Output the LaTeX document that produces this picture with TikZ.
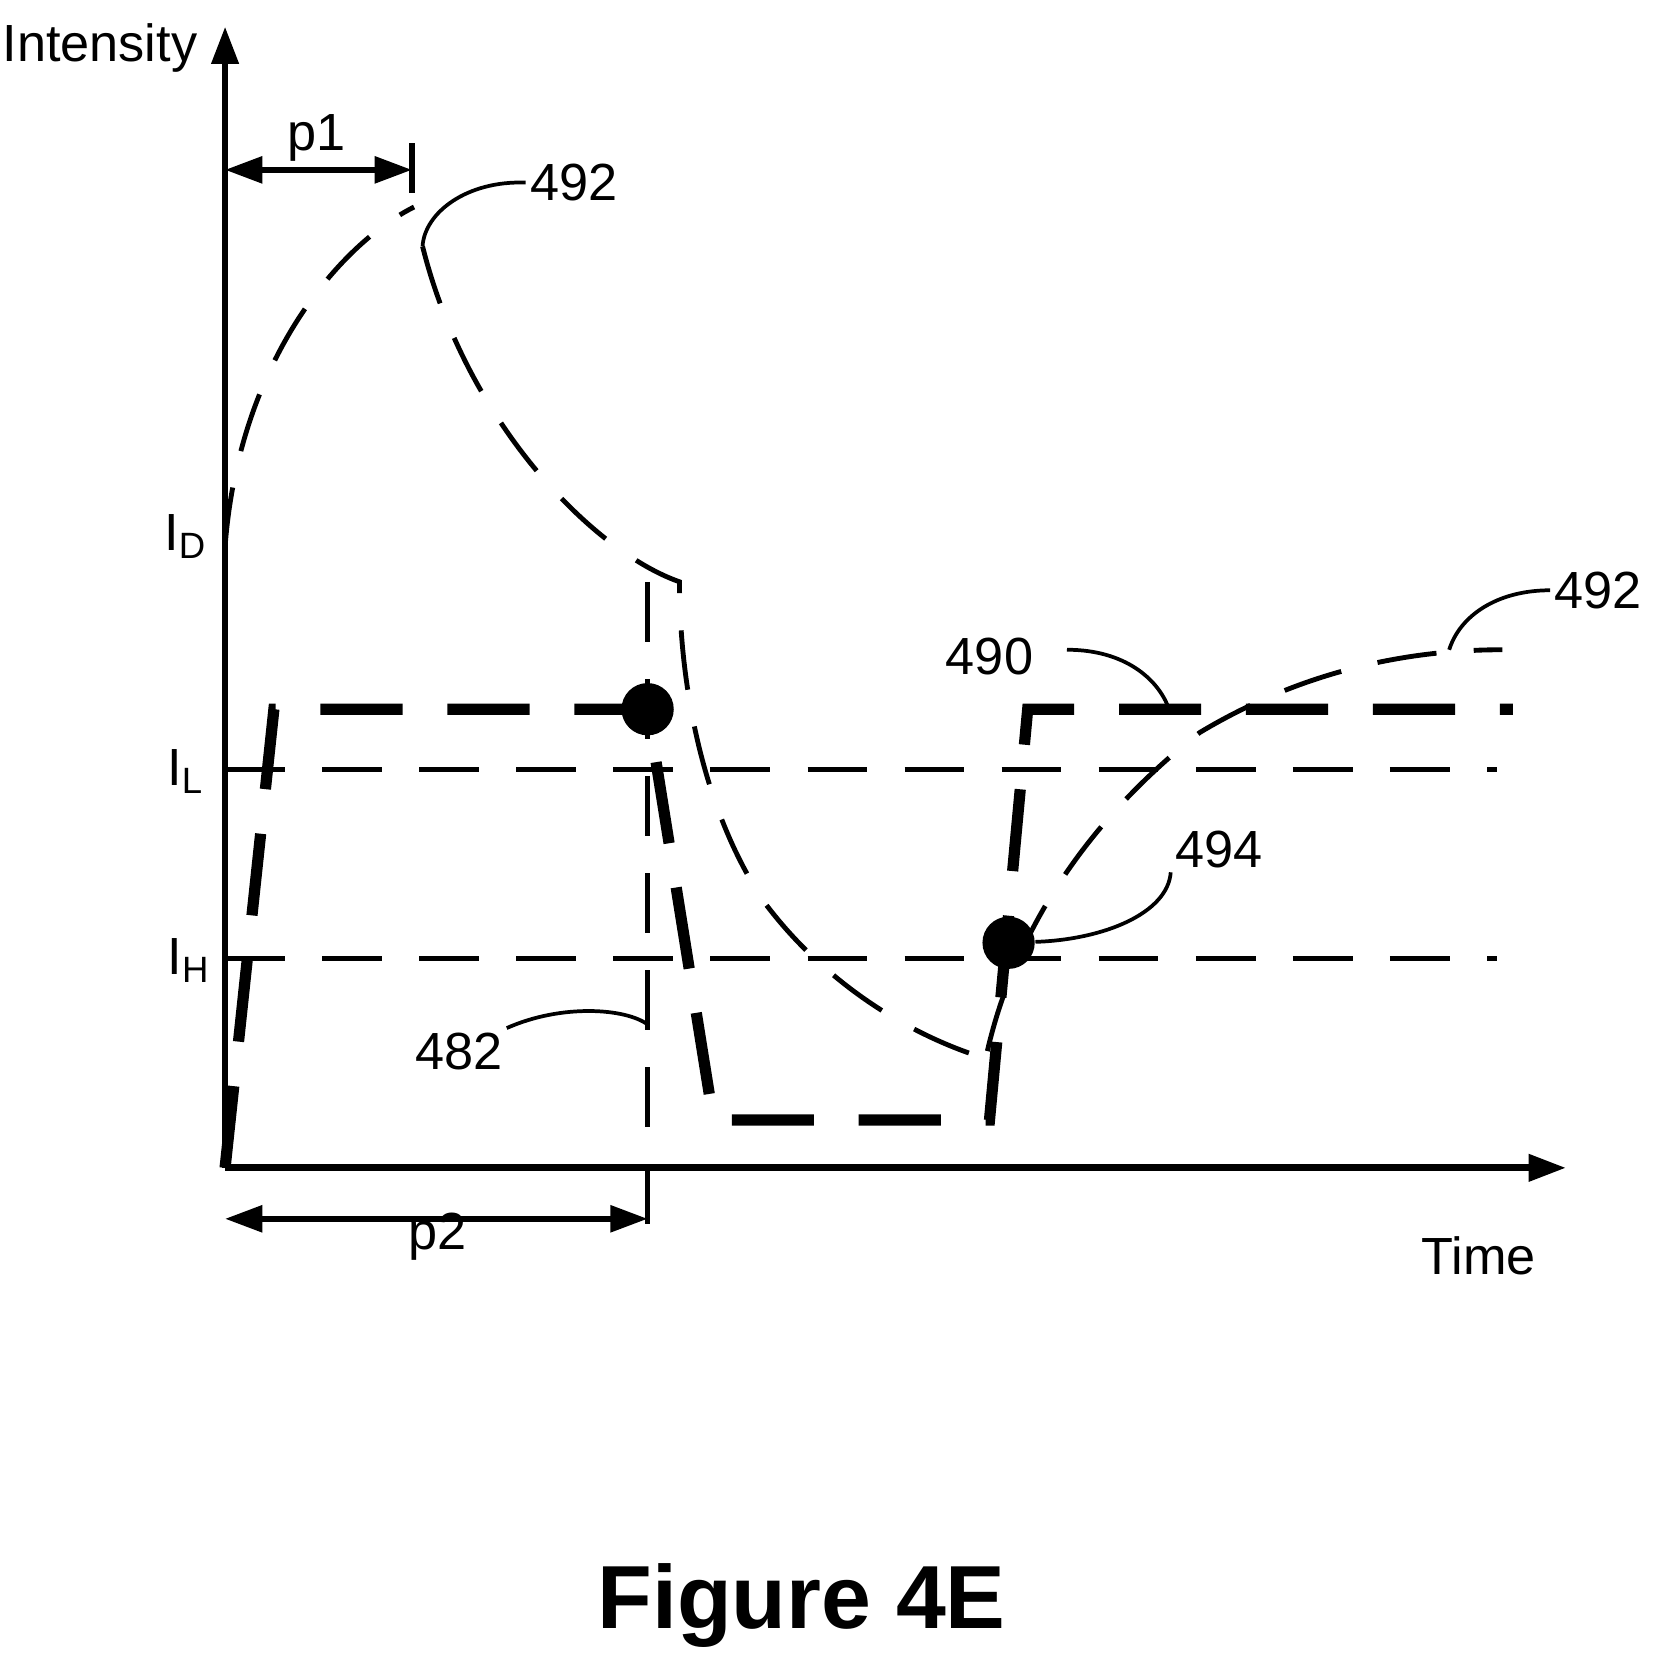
\documentclass[tikz,border=0pt]{standalone}
\usepackage{fontspec}
\setmainfont{Liberation Sans}
\usetikzlibrary{arrows.meta}
\begin{document}
\begin{tikzpicture}[x=0.01cm, y=-0.01cm, >={Triangle[length=10pt,width=7pt]},
  lbl/.style={font=\fontsize{14}{16}\selectfont, inner sep=1pt},
  thin dash/.style={line width=1.3pt, dash pattern=on 16pt off 10pt},
  thick dash/.style={line width=3pt, dash pattern=on 22pt off 12pt}]
	\useasboundingbox (0,0) rectangle (1560,1573);
	% axes
	\coordinate (orig) at (212,1100);
	\coordinate (ytop) at (212,25);
	\coordinate (xend) at (1475,1100);
	\draw[line width=1.8pt, ->] (orig) -- (ytop);
	\draw[line width=1.8pt, ->] (orig) -- (xend);
	\node[lbl, anchor=east] (intensity) at (190,45) {Intensity};
	\node[lbl] (time) at (1393,1183) {Time};
	
	% levels
	\node[lbl] (iD) at (175,505) {I\textsubscript{D}};
	\node[lbl] (iL) at (175,727) {I\textsubscript{L}};
	\node[lbl] (iH) at (178,905) {I\textsubscript{H}};
	\draw[thin dash] (212,725) -- (1410,725);
	\draw[thin dash] (212,903) -- (1410,903);
	
	% vertical marker
	\coordinate (v1) at (610,548);
	\coordinate (v2) at (610,1168);
	\draw[thin dash] (v1) -- (v2);
	
	% p1 and p2
	\coordinate (p1a) at (212,160);
	\coordinate (p1b) at (388,160);
	\draw[line width=1.5pt, <->] (p1a) -- (p1b);
	\draw[line width=1.5pt] (388,135) -- (388,182);
	\node[lbl] (p1) at (298,130) {p1};
	\coordinate (p2a) at (212,1148);
	\coordinate (p2b) at (610,1148);
	\draw[line width=1.5pt, <->] (p2a) -- (p2b);
	\node[lbl] (p2) at (412,1165) {p2};
	
	% curve 490
	\draw[thick dash] (212,1100) -- (258,668) -- (610,668) -- (672,1055)
		-- (932,1055) -- (968,668) -- (1425,668);
	\node[circle, fill, inner sep=0pt, minimum size=14pt] (d1) at (610,668) {};
	
	% curve 492
	\draw[thin dash] (212,515) .. controls (225,340) and (320,230) .. (390,195);
	\draw[thin dash] (398,232) .. controls (440,400) and (560,520) .. (640,548)
		.. controls (640,640) and (660,760) .. (720,850)
		.. controls (780,930) and (860,975) .. (922,995);
	\draw[thin dash] (930,990) .. controls (960,860) and (1040,760) .. (1130,690)
		.. controls (1230,630) and (1330,612) .. (1415,612);
	\node[circle, fill, inner sep=0pt, minimum size=14pt] (d2) at (950,888) {};
	
	% labels and leaders
	\node[lbl, anchor=west] (l492a) at (495,172) {492};
	\draw[line width=1pt] (l492a.west) .. controls (440,170) and (400,200) .. (398,232);
	\node[lbl, anchor=west] (l492b) at (1460,556) {492};
	\draw[line width=1pt] (l492b.west) .. controls (1410,556) and (1375,580) .. (1365,612);
	\node[lbl] (l490) at (932,618) {490};
	\draw[line width=1pt] (1005,612) .. controls (1060,612) and (1090,640) .. (1100,665);
	\node[lbl] (l494) at (1148,800) {494};
	\draw[line width=1pt] (d2) .. controls (1040,885) and (1100,860) .. (l494.south west);
	\node[lbl] (l482) at (432,990) {482};
	\draw[line width=1pt] (l482.north east) .. controls (530,945) and (590,950) .. (610,965);
	
	\node[font=\bfseries\fontsize{24}{28}\selectfont] (fig) at (755,1512) {Figure 4E};
\end{tikzpicture}
\end{document}
